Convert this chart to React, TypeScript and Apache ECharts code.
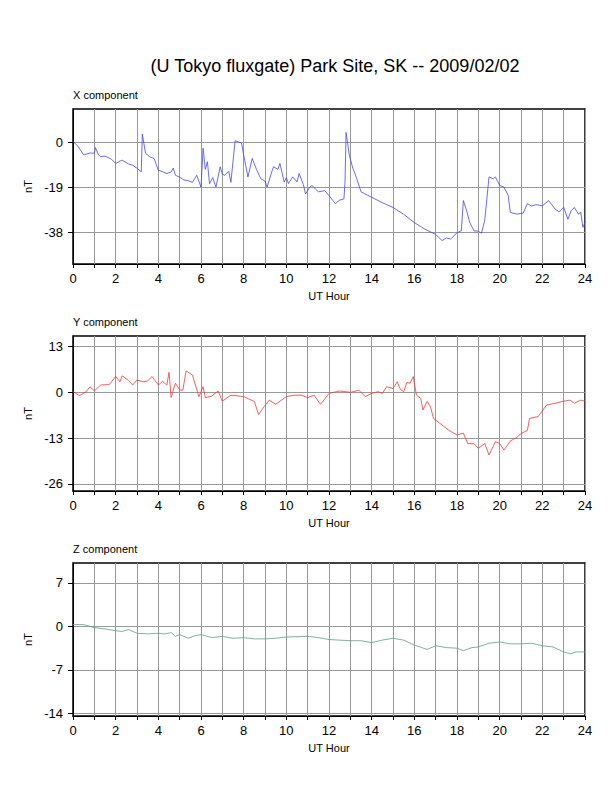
import { useEffect, useRef } from 'react';
import * as echarts from 'echarts';

const title = '(U Tokyo fluxgate) Park Site, SK -- 2009/02/02';

const xHours = [0, 0.25, 0.5, 0.8, 1, 1.05, 1.2, 1.3, 1.5, 1.8, 2, 2.3, 2.6, 2.8, 3, 3.2, 3.25, 3.4, 3.6, 3.8, 4, 4.2, 4.4, 4.6, 4.7, 4.8, 5, 5.2, 5.4, 5.6, 5.8, 6, 6.1, 6.2, 6.3, 6.4, 6.55, 6.7, 6.9, 7, 7.1, 7.3, 7.4, 7.6, 7.8, 7.9, 8, 8.2, 8.4, 8.6, 8.8, 9, 9.1, 9.3, 9.4, 9.6, 9.7, 9.9, 10, 10.1, 10.3, 10.5, 10.6, 10.8, 10.9, 11.1, 11.2, 11.5, 11.8, 12, 12.3, 12.5, 12.7, 12.75, 12.8, 12.95, 13.1, 13.3, 13.5, 13.8, 14, 14.5, 15, 15.5, 16, 16.5, 17, 17.3, 17.5, 17.7, 18, 18.2, 18.3, 18.45, 18.6, 18.8, 19, 19.15, 19.3, 19.4, 19.5, 19.7, 19.8, 20, 20.2, 20.4, 20.5, 20.8, 21.1, 21.3, 21.5, 21.7, 22, 22.3, 22.6, 22.8, 23, 23.2, 23.35, 23.5, 23.7, 23.8, 23.9, 24];
const xValues = [0.3, -1.9, -5.4, -4.6, -4.7, -2.3, -5.5, -6.1, -5.9, -7.2, -9, -7.6, -9.2, -9.8, -11, -12.6, 3.4, -4.7, -6.2, -6.9, -11.9, -12.5, -13.3, -12.6, -11, -14, -14.8, -16, -16.3, -17, -14, -19, -2.6, -11.5, -8.3, -17.6, -15, -19, -10.4, -13.5, -14, -12.3, -17, 0.6, -0.1, -0.4, -5.4, -14.7, -6.9, -11.5, -15.4, -16.5, -19, -13, -10.4, -11.5, -9, -16.9, -15, -17.5, -14.7, -16.8, -13.3, -18, -21.9, -19, -18.3, -21, -20.5, -22.6, -26, -24.5, -24, -17, 4.1, -5.4, -10.5, -15.4, -21, -22.4, -23.3, -25.6, -27.6, -30.5, -34, -36.8, -39, -41.6, -40.5, -41, -38.3, -37.5, -24.7, -29, -34, -37.5, -37.6, -38.5, -33, -24, -14.7, -15.5, -14.7, -18.3, -19, -22.5, -29.7, -30.4, -30, -26, -27, -26.4, -26.9, -24.7, -28.3, -29.5, -27.5, -32.6, -29, -27.6, -30.5, -29.5, -36, -34];

const yHours = [0, 0.3, 0.6, 0.8, 1, 1.3, 1.7, 2, 2.2, 2.3, 2.6, 2.8, 3, 3.3, 3.5, 3.7, 4, 4.2, 4.4, 4.5, 4.6, 4.8, 5, 5.15, 5.3, 5.6, 5.9, 6.1, 6.2, 6.5, 6.8, 7, 7.4, 8, 8.5, 8.7, 8.9, 9.2, 9.5, 10, 10.4, 10.7, 11, 11.3, 11.6, 12, 12.5, 13, 13.4, 13.7, 14, 14.3, 14.5, 14.7, 15, 15.2, 15.35, 15.5, 15.65, 15.8, 15.95, 16.1, 16.3, 16.4, 16.6, 16.75, 16.9, 17.2, 17.6, 18, 18.3, 18.5, 18.8, 19, 19.3, 19.5, 19.8, 20, 20.2, 20.5, 20.8, 21, 21.3, 21.4, 21.8, 22.2, 22.6, 23, 23.3, 23.5, 23.8, 24];
const yValues = [0.2, -0.9, 0.1, 1.6, 0.4, 2.1, 2.2, 4.5, 3, 4.7, 3.4, 2.1, 3.5, 3, 3.2, 4.5, 2.1, 3.1, 2.1, 5.7, -1.5, 2.6, 0.7, 0.6, 6.1, 4.9, -1.2, 1.6, -1.5, -1.1, 0.4, -2.5, -0.8, -1.2, -2.6, -6.3, -4.5, -2.2, -3.4, -1.2, -0.8, -0.8, -1.5, -0.8, -3.4, -0.3, 0.4, 0, 0.6, -1.2, -0.3, 0.2, -0.3, 1.6, 1.1, 3, 0.8, 0.2, 2.8, 2.6, 4.5, -0.8, -1.7, -5, -2.6, -4, -7.4, -8.8, -10.7, -12.1, -11.6, -14.5, -14.6, -15.9, -14.5, -17.8, -14, -14.5, -16.4, -13.8, -12.8, -11.7, -10.8, -7.4, -6.9, -3.6, -3.1, -2.5, -2.2, -3.1, -2.2, -2.5];

const zHours = [0, 0.5, 1, 1.5, 2, 2.3, 2.6, 3, 3.5, 4, 4.3, 4.6, 4.8, 5, 5.4, 5.7, 6, 6.5, 7, 7.5, 8, 8.5, 9, 9.5, 10, 11, 11.5, 12, 13, 13.5, 14, 14.5, 15, 15.5, 16, 16.6, 17, 17.5, 18, 18.3, 18.7, 19, 19.5, 20, 20.5, 21, 21.5, 22, 22.5, 23, 23.3, 23.6, 24];
const zValues = [0.3, 0.3, -0.2, -0.4, -0.7, -0.8, -0.5, -1.1, -1.2, -1.1, -1.2, -1, -1.6, -1.3, -1.9, -1.5, -1.3, -1.8, -1.6, -1.9, -1.8, -2, -2, -1.9, -1.7, -1.6, -1.8, -2.1, -2.3, -2.3, -2.6, -2.2, -1.9, -2.2, -3, -3.7, -3.1, -3.4, -3.5, -3.9, -3.4, -3.3, -2.7, -2.5, -2.8, -2.8, -2.7, -3.1, -3.3, -4.1, -4.4, -4.1, -4.1];

const xTicks = [0, -19, -38];
const yTicks = [13, 0, -13, -26];
const zTicks = [7, 0, -7, -14];

const panels = [
  { label: 'X component', top: 109, height: 155, min: -51.5, max: 14, ticks: xTicks, hours: xHours, values: xValues, color: '#4444ff' },
  { label: 'Y component', top: 336, height: 155, min: -28, max: 16, ticks: yTicks, hours: yHours, values: yValues, color: '#ff3333' },
  { label: 'Z component', top: 563, height: 153, min: -14.4, max: 10.2, ticks: zTicks, hours: zHours, values: zValues, color: '#5f9f80' },
];

const font = 'Liberation Sans, Arial, sans-serif';

export default function App() {
  const ref = useRef<HTMLDivElement>(null);

  useEffect(() => {
    if (!ref.current) return;
    const chart = echarts.init(ref.current, null, { renderer: 'svg' });
    chart.setOption({
      animation: false,
      textStyle: { fontFamily: font },
      title: {
        text: title,
        left: 330,
        top: 52,
        textAlign: 'center',
        textStyle: { fontSize: 18, fontWeight: 'normal', color: '#000', fontFamily: font },
      },
      graphic: panels.map((p) => ({
        type: 'text',
        left: 73,
        top: p.top - 20,
        style: { text: p.label, fontSize: 11, fill: '#000', fontFamily: font },
      })),
      grid: panels.map((p) => ({
        left: 73,
        top: p.top,
        width: 512,
        height: p.height,
        show: true,
        borderColor: '#000',
        borderWidth: 1.5,
      })),
      xAxis: panels.map((p, i) => ({
        type: 'value',
        gridIndex: i,
        min: 0,
        max: 24,
        interval: 1,
        name: 'UT Hour',
        nameLocation: 'middle',
        nameGap: 26,
        nameTextStyle: { fontSize: 11, color: '#000', fontFamily: font },
        axisLine: { show: true, onZero: false, lineStyle: { color: '#000' } },
        axisTick: { show: true, length: 4, lineStyle: { color: '#000' } },
        axisLabel: {
          fontSize: 13,
          color: '#000',
          margin: 8,
          fontFamily: font,
          formatter: (v: number) => (v % 2 === 0 ? String(v) : ''),
        },
        splitLine: { show: true, lineStyle: { color: '#999', width: 1 } },
      })),
      yAxis: panels.map((p, i) => ({
        type: 'value',
        gridIndex: i,
        min: p.min,
        max: p.max,
        name: 'nT',
        nameLocation: 'middle',
        nameGap: 38,
        nameRotate: 90,
        nameTextStyle: { fontSize: 11, color: '#000', fontFamily: font },
        axisLine: { show: true, onZero: false, lineStyle: { color: '#000' } },
        axisTick: { show: true, length: 5, customValues: p.ticks, lineStyle: { color: '#000' } },
        axisLabel: { fontSize: 13, color: '#000', margin: 10, customValues: p.ticks, fontFamily: font },
        splitLine: { show: true, lineStyle: { color: '#999', width: 1 } },
      })),
      series: panels.map((p, i) => ({
        type: 'line',
        xAxisIndex: i,
        yAxisIndex: i,
        showSymbol: false,
        symbol: 'none',
        data: p.hours.map((h, j) => [h, p.values[j]]),
        lineStyle: { color: p.color, width: 0.8 },
      })),
    });
    return () => chart.dispose();
  }, []);

  return (
    <div
      ref={ref}
      style={{ position: 'absolute', left: 0, top: 0, width: 612, height: 792, background: '#fff' }}
    />
  );
}
